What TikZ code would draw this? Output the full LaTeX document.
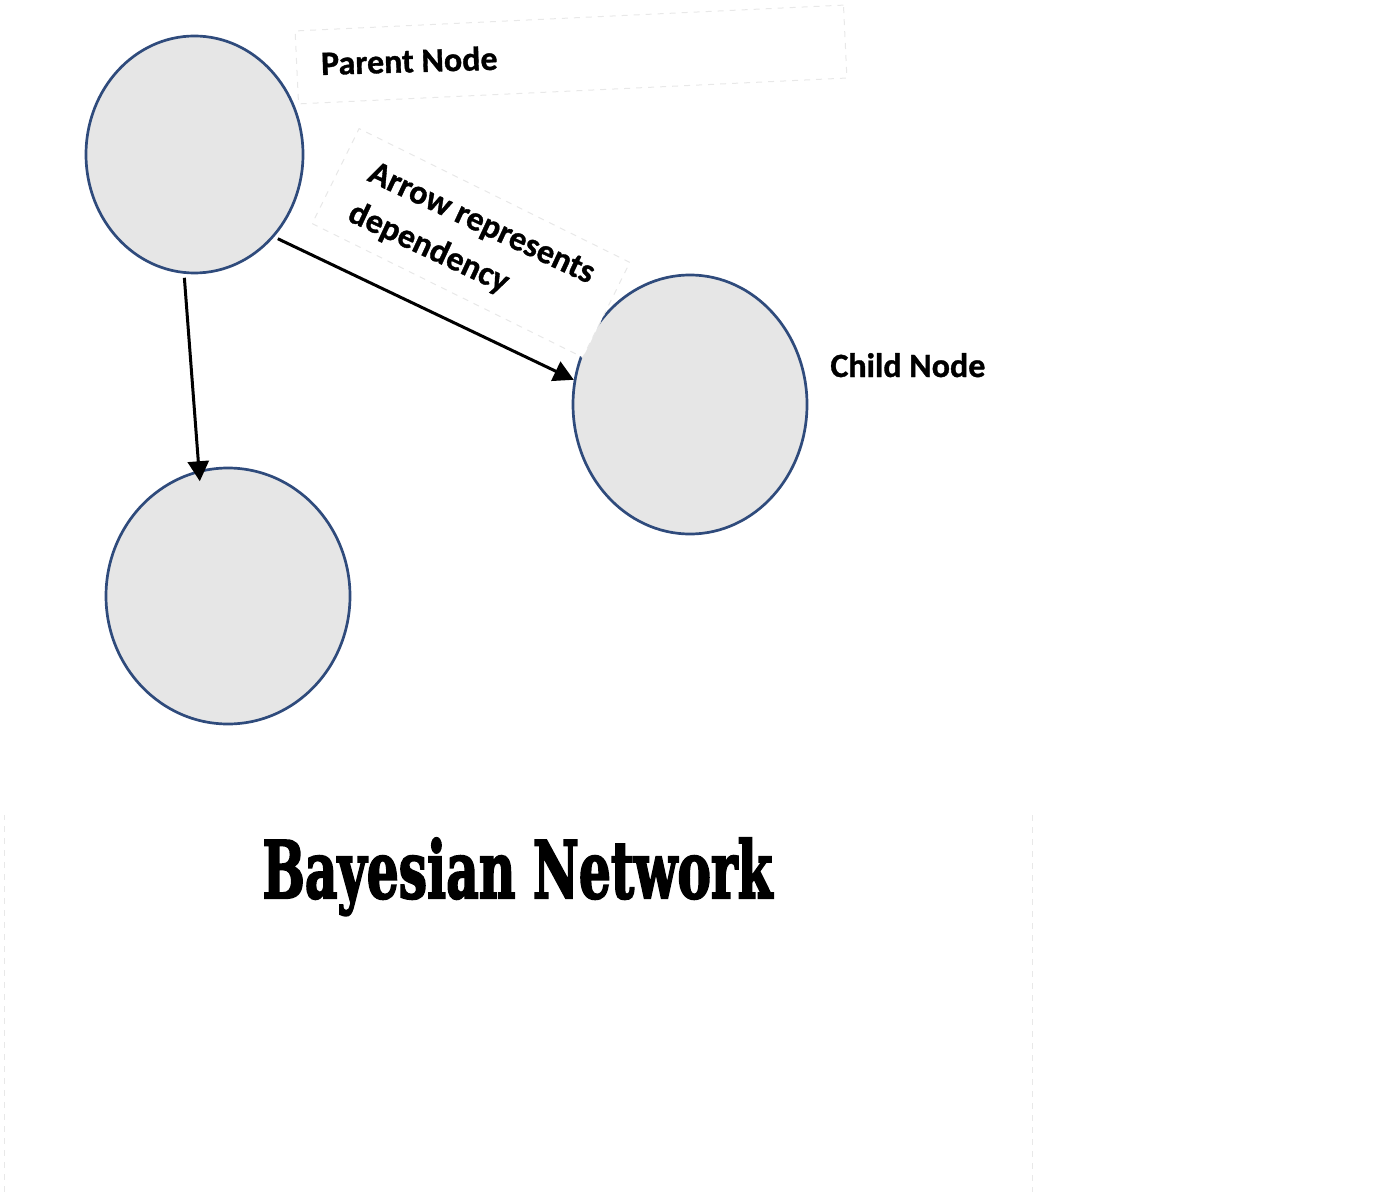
\documentclass[tikz,border=0pt]{standalone}
\usepackage{fontspec}
\usepackage{graphicx}
\setmainfont{Carlito}[BoldFeatures={FakeBold=1}]
\newfontfamily\titlefont{DejaVu Serif}[BoldFeatures={FakeBold=3}]
\usetikzlibrary{shapes.geometric,arrows.meta}
\definecolor{nodefill}{HTML}{E6E6E6}
\definecolor{nodeline}{HTML}{2F4B7C}
\definecolor{faint}{HTML}{E8E8E8}
\begin{document}
\begin{tikzpicture}[x=0.5pt,y=-0.5pt,
  bnode/.style={ellipse,draw=nodeline,fill=nodefill,line width=1.35pt,inner sep=0pt},
  lbl/.style={font=\fontsize{17}{20}\selectfont\bfseries,inner sep=0pt,anchor=base west},
  faintbox/.style={draw=faint,dash pattern=on 3pt off 3pt,line width=0.5pt,inner sep=0pt},
  dep/.style={-{Triangle[length=10pt,width=10.5pt]},line width=1.5pt,black}]
\useasboundingbox (0,0) rectangle (1400,1192);
% nodes
\node[bnode,minimum width=108.5pt,minimum height=118.5pt] (parent) at (194.5,154.5) {};
\node[bnode,minimum width=117pt,minimum height=129.5pt] (child) at (690,404.5) {};
\node[bnode,minimum width=122pt,minimum height=128pt] (other) at (228,596) {};
% faint text boxes
\node[faintbox,rotate=2.7,minimum width=274.5pt,minimum height=36.5pt] (pbox) at (571,54.5) {};
\node[faintbox,fill=white,rotate=-26.3,minimum width=151pt,minimum height=53pt] (abox) at (471,243) {};
\draw[faint,dash pattern=on 3pt off 3pt,line width=0.5pt] (4,1192) -- (4,815);
\draw[faint,dash pattern=on 3pt off 3pt,line width=0.5pt] (1032,815) -- (1032,1192);
% labels
\node[lbl,rotate=1.7] (plabel) at (321,75) {Parent Node};
\node[lbl,rotate=-25] (alabel1) at (366,180) {Arrow represents};
\node[lbl,rotate=-25] (alabel2) at (346,220) {dependency};
\node[lbl] (clabel) at (830,377) {Child Node};
\node[inner sep=0pt,anchor=base west] (title) at (262,898)
  {\resizebox{255pt}{30pt}{\titlefont\bfseries Bayesian Network}};
% connectors
\draw[dep,shorten <=2pt] (parent.-46) -- (child.168);
\draw[dep,shorten <=2pt,shorten >=-5.5pt] (parent.-95) -- (other.103);
\end{tikzpicture}
\end{document}
